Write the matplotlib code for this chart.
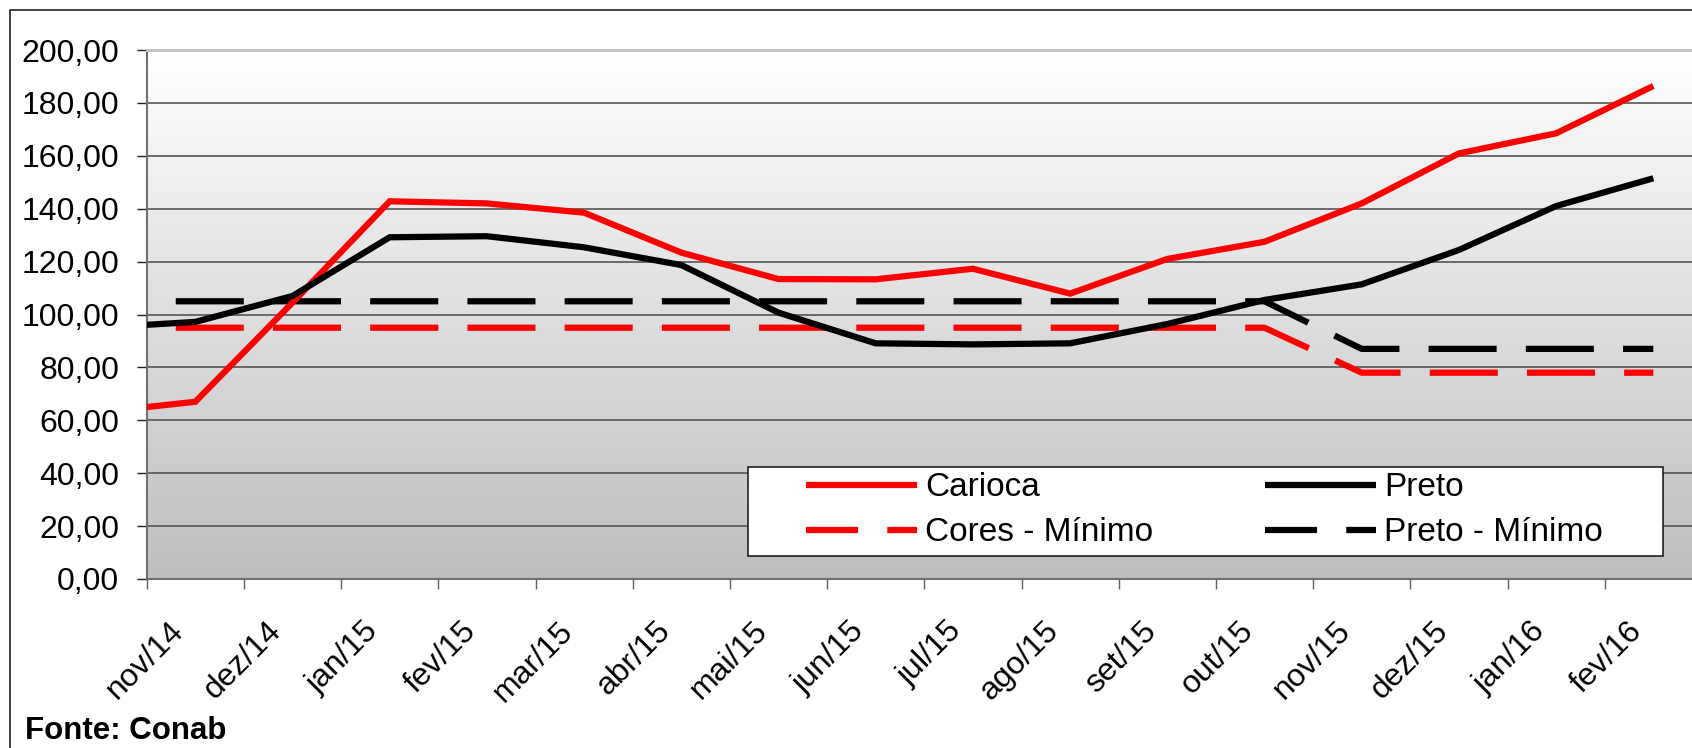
import numpy as np
import matplotlib
matplotlib.use('Agg')
import matplotlib.pyplot as plt
from matplotlib.lines import Line2D
from matplotlib.patches import Rectangle
from matplotlib.colors import LinearSegmentedColormap
import matplotlib.transforms as mtransforms

plt.rcParams['font.family'] = ['Liberation Sans', 'DejaVu Sans']
plt.rcParams['lines.scale_dashes'] = False

# ---- data ----
months = ['nov/14', 'dez/14', 'jan/15', 'fev/15', 'mar/15', 'abr/15', 'mai/15',
          'jun/15', 'jul/15', 'ago/15', 'set/15', 'out/15', 'nov/15', 'dez/15',
          'jan/16', 'fev/16']
# first value belongs to the month before nov/14 (out/14), only the entering segment is visible
carioca = [63.0, 67.0, 104.5, 142.8, 142.0, 138.5, 123.4, 113.4, 113.3, 117.3,
           107.9, 121.0, 127.5, 142.0, 160.9, 168.5, 186.4]
preto = [95.0, 97.2, 107.0, 129.2, 129.6, 125.4, 118.7, 100.7, 89.1, 88.7,
         89.1, 96.4, 105.5, 111.4, 124.4, 141.0, 151.5]
cores_min = [95, 95, 95, 95, 95, 95, 95, 95, 95, 95, 95, 95, 95, 78, 78, 78, 78]
preto_min = [105, 105, 105, 105, 105, 105, 105, 105, 105, 105, 105, 105, 105, 87, 87, 87, 87]
yticks = list(range(0, 201, 20))

x = np.arange(-1, len(months))

W, H = 1692, 748
fig = plt.figure(figsize=(W / 100, H / 100), dpi=100)
fig.patch.set_facecolor('white')

ax_left, ax_top, ax_bottom = 146.7, 50.0, 579.0
cat_w = 97.2
ax = fig.add_axes([ax_left / W, (H - ax_bottom) / H, cat_w * len(months) / W,
                   (ax_bottom - ax_top) / H])

# gradient background
cmap = LinearSegmentedColormap.from_list('bg', ['#FFFFFF', '#BEBEBE'])
ax.imshow(np.linspace(0, 1, 256).reshape(-1, 1), extent=(-0.5, len(months) - 0.5, 0, 200),
          aspect='auto', cmap=cmap, origin='upper', zorder=0, interpolation='bilinear')

ax.set_xlim(-0.5, len(months) - 0.5)
ax.set_ylim(0, 200)

# grid
for yv in yticks[1:-1]:
    ax.axhline(yv, color='#555555', lw=1.2, zorder=1)

lw = 4.5
ax.plot(x, carioca, color='#FF0000', lw=lw, solid_joinstyle='miter', solid_capstyle='butt', zorder=3)
ax.plot(x, preto, color='#000000', lw=lw, solid_joinstyle='miter', solid_capstyle='butt', zorder=3)
dash = (14.1, (49.0, 21.0))
ax.plot(x, cores_min, color='#FF0000', lw=lw, linestyle=dash, dash_capstyle='butt', zorder=2)
ax.plot(x, preto_min, color='#000000', lw=lw, linestyle=dash, dash_capstyle='butt', zorder=2)

# spines
ax.spines['right'].set_visible(False)
ax.spines['left'].set_color('#707070')
ax.spines['left'].set_linewidth(1.5)
ax.spines['bottom'].set_color('#707070')
ax.spines['bottom'].set_linewidth(1.5)
ax.spines['top'].set_color('#C4C4C4')
ax.spines['top'].set_linewidth(2.2)

# y axis
ax.set_yticks(yticks)
ax.set_yticklabels([f"{v:.2f}".replace('.', ',') for v in yticks])
ax.tick_params(axis='y', length=7.2, width=1.0, color='#202020', pad=12.5, labelsize=23,
               direction='out')

# x axis: ticks at category boundaries, labels at category centres
ax.set_xticks(np.arange(-0.5, len(months), 1.0))
ax.set_xticklabels([])
ax.tick_params(axis='x', length=7.5, width=1.0, color='#606060', direction='out')
off = mtransforms.ScaledTranslation(-5 / 100, -37 / 100, fig.dpi_scale_trans)
trans = mtransforms.blended_transform_factory(ax.transData, ax.transAxes) + off
for i, m in enumerate(months):
    ax.text(i, 0, m, transform=trans, rotation=45, ha='right', va='top',
            fontsize=23, clip_on=False)

# legend box and legend
fig.add_artist(Rectangle((748 / W, 1 - 555.7 / H), (1663 - 748) / W, (555.7 - 466.7) / H,
                         transform=fig.transFigure, facecolor='white', edgecolor='#111111',
                         lw=1.1, zorder=4))
handles = [
    Line2D([], [], color='#FF0000', lw=lw, solid_capstyle='butt'),
    Line2D([], [], color='#FF0000', lw=lw, linestyle=(11.5, (49.0, 21.0)), dash_capstyle='butt'),
    Line2D([], [], color='#000000', lw=lw, solid_capstyle='butt'),
    Line2D([], [], color='#000000', lw=lw, linestyle=(11.5, (49.0, 21.0)), dash_capstyle='butt'),
]
labels = ['Carioca', 'Cores - Mínimo', 'Preto', 'Preto - Mínimo']
leg_fs = 24
fs_px = leg_fs * 100 / 72
leg = fig.legend(handles, labels, ncol=2, frameon=False, loc='center left',
                 bbox_to_anchor=(806 / W, 1 - 510.3 / H), borderpad=0, borderaxespad=0,
                 handlelength=111 / fs_px, handletextpad=8 / fs_px, columnspacing=112 / fs_px,
                 labelspacing=0.42, fontsize=leg_fs)
leg.set_zorder(5)

# outer frame
fig.add_artist(Rectangle((10 / W, -0.5), 2.0, 1.5 - 10 / H, transform=fig.transFigure,
                         fill=False, edgecolor='#111111', lw=1.1, zorder=6))

fig.text(25 / W, 1 - 739 / H, 'Fonte: Conab', fontsize=22.5, fontweight='bold',
         ha='left', va='baseline')

fig.savefig('out.png', dpi=100)
